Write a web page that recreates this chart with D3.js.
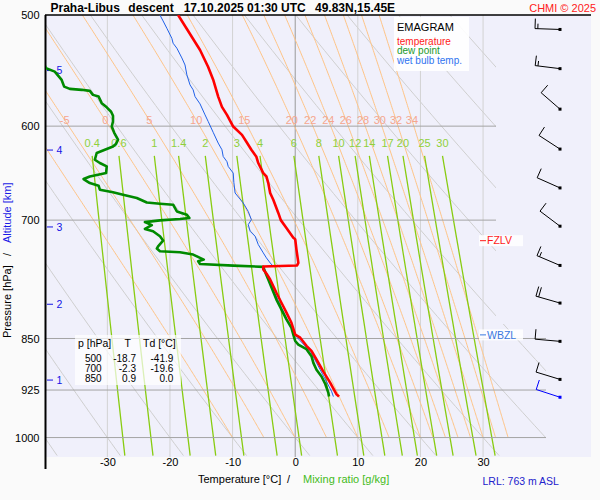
<!DOCTYPE html>
<html>

<head>
  <meta charset="utf8">
  <script src="https://d3js.org/d3.v7.min.js"></script>
  <style>
    body { margin: 0; background: #fafafa; }
    text { font-family: "Liberation Sans", Arial, sans-serif; }
  </style>
</head>

<body>
  <svg id="chart" width="600" height="500"></svg>
  <script>
    // --- sounding data (pressure hPa, temperature °C) ---
    var tempP = [500, 511.6, 529.5, 544.5, 556, 571.6, 581.3, 589, 600.4, 608.6, 615.6, 623.7, 630.9, 637.4, 648, 651.6, 658.7, 669.5, 677, 691.8, 700, 709, 720.6, 722.3, 734.7, 750.9, 754, 755.4, 759, 764, 771.6, 788.6, 801.6, 814.7, 828.4, 844.5, 848.9, 860.3, 867.4, 879.8, 897.4, 914.3, 931.6, 935];
    var tempT = [-18.7, -17.3, -15.2, -13.9, -13.1, -12.3, -11.7, -10.9, -9.9, -8.5, -7.8, -7.0, -6.2, -5.9, -5.1, -4.6, -4.3, -4.0, -3.5, -2.7, -2.3, -1.4, -0.3, 0.0, 0.2, 0.5, 0.3, -5.1, -5.1, -4.6, -4.0, -3.0, -2.2, -1.4, -0.6, 0.0, 0.8, 1.8, 2.6, 3.4, 4.5, 5.6, 6.6, 7.0];

    var dewP = [500, 530, 545.6, 548.7, 556.2, 562.3, 564.4, 565.3, 566.3, 570, 571.6, 577.8, 581.8, 586, 589.9, 595.4, 600.3, 606.6, 613.5, 617.5, 620.3, 627, 634, 637.4, 641, 648, 651.6, 654.4, 658.7, 661.6, 665.9, 668.8, 671.4, 675, 680, 681.4, 682.5, 690.1, 693.8, 697.6, 698.7, 700.3, 702.3, 705.8, 710.2, 712.9, 718.8, 723.9, 730.7, 733.4, 736.7, 737.9, 740.7, 744.7, 746.8, 748.8, 752.3, 754.2, 755.8, 764, 771.6, 797.4, 810.5, 823.7, 835.3, 844.5, 853.5, 858.5, 865.1, 875.1, 884.7, 894.8, 904.7, 915.9, 929.3, 935];
    var dewT = [-41.9, -41.0, -39.8, -38.4, -37.3, -36.9, -36.0, -34.1, -32.8, -32.3, -31.4, -30.9, -30.1, -29.4, -29.1, -29.1, -29.3, -28.9, -28.3, -28.6, -29.1, -31.7, -32.0, -31.2, -30.1, -30.2, -32.8, -33.8, -32.8, -31.4, -31.2, -29.1, -27.5, -25.3, -23.7, -21.6, -19.5, -18.9, -17.3, -16.9, -18.4, -21.6, -24.0, -22.9, -24.0, -22.7, -21.6, -21.1, -21.9, -22.1, -21.6, -18.4, -16.3, -15.2, -14.6, -15.5, -15.2, -9.9, -5.1, -4.7, -4.3, -3.0, -2.2, -1.4, -0.6, -0.3, 0.0, 0.5, 1.8, 2.6, 2.9, 3.4, 4.2, 4.8, 5.3, 5.4];

    var wetP = [500, 504.9, 511, 519.5, 523.7, 528, 536.5, 542.7, 551.6, 560.7, 565.3, 571.6, 578.5, 589, 595.4, 606.1, 616.9, 623.7, 630.6, 636, 641, 648, 658, 669.5, 680.6, 690.1, 699.5, 705.2, 712.9, 718.8, 728.6, 738.6, 744.7, 750.9, 754.2, 755.8, 764, 771.6, 797.4, 823.7, 848.5, 869.3, 894.8, 926.8, 935];
    var wetT = [-21.6, -21.1, -20.5, -19.7, -19.5, -18.9, -18.1, -17.6, -17.3, -16.8, -16.3, -16.0, -15.2, -14.4, -13.9, -13.1, -12.3, -11.7, -11.5, -10.9, -10.7, -9.9, -9.8, -9.6, -8.3, -7.5, -7.0, -7.5, -7.2, -6.4, -5.9, -5.1, -4.6, -4.0, -3.6, -5.1, -4.6, -4.2, -2.8, -1.3, 0.3, 2.5, 4.0, 5.8, 6.1];

    // wind: pressure, direction (deg), speed (kt); last one is the launch level
    var windP = [512, 546, 583.5, 623, 664, 707, 754, 802, 854, 909, 936];
    var windDir = [272, 277, 311, 303, 294, 307, 293, 286, 275, 287, 288];
    var windSpd = [15, 15, 10, 10, 10, 10, 15, 20, 10, 10, 10];

    // altitude marks (km) and their pressure
    var altKm = [1, 2, 3, 4, 5];
    var altP = [910, 803.6, 707.9, 624, 547.7];

    var fzlvP = 724;
    var wbzlP = 845;

    // table of standard levels
    var tableP = [500, 700, 850];
    var tableT = [-18.7, -2.3, 0.9];
    var tableTd = [-41.9, -19.6, 0.0];

    // grid
    var pTicks = [500, 600, 700, 850, 925, 1000];
    var tTicks = [-30, -20, -10, 0, 10, 20, 30];
    var mixRatios = [0.4, 0.6, 1, 1.4, 2, 3, 4, 6, 8, 10, 12, 14, 17, 20, 25, 30];
    var thetaW = [-10, -5, 0, 5, 10, 15, 20, 22, 24, 26, 28, 30, 32, 34];
    var thetaWLabels = [-5, 0, 5, 10, 15, 20, 22, 24, 26, 28, 30, 32, 34];
    var theta = [-40, -30, -20, -10, 0, 10, 20, 30, 40, 50, 60, 70, 80, 90, 100];

    var chart = d3.select('#chart');
    var plotL = 46, plotR = 591, plotT = 15, plotB = 457;

    var x = d3.scaleLinear().domain([-39.8, 47.24]).range([plotL, plotR]);
    var y = d3.scaleLog().domain([500, 1032.4]).range([plotT, plotB]);

    var line = d3.line().x((d) => x(d.t)).y((d) => y(d.p));

    var defs = chart.append('defs');
    defs.append('clipPath').attr('id', 'plot')
      .append('rect').attr('x', plotL).attr('y', plotT).attr('width', plotR - plotL).attr('height', plotB - plotT);
    defs.append('clipPath').attr('id', 'dry')
      .append('path').attr('d', 'M' + plotL + ',' + plotT + 'H496V' + y(830) + 'H546V' + plotB + 'H' + plotL + 'Z');

    chart.append('rect').attr('x', plotL).attr('y', plotT).attr('width', plotR - plotL).attr('height', plotB - plotT)
      .attr('fill', '#f0f0fb');

    // --- thermodynamics for the background lines ---
    function satVap(tc) { return 6.112 * Math.exp(17.67 * tc / (tc + 243.5)); }
    function dTdp(p, T) {
      var es = satVap(T - 273.15);
      var rs = 0.622 * es / (p - es);
      var Rd = 287.04, cp = 1005.7, L = 2.501e6;
      return (Rd * T + L * rs) / (p * (cp + L * L * rs * 0.622 / (Rd * T * T)));
    }
    function moistLine(tw) {
      var p = 1000, T = tw + 273.15, dp = -2, pts = [{ p: p, t: tw }];
      while (p > 500) {
        var k1 = dTdp(p, T);
        var k2 = dTdp(p + dp / 2, T + k1 * dp / 2);
        T += k2 * dp; p += dp;
        pts.push({ p: p, t: T - 273.15 });
      }
      return pts;
    }
    function mixLine(w) {
      return d3.range(630, 1040, 10).map(function (p) {
        var e = (w / 1000) * p / (0.622 + w / 1000);
        var l = Math.log(e / 6.112);
        return { p: p, t: 243.5 * l / (17.67 - l) };
      });
    }
    function dryLine(th) {
      return d3.range(500, 1040, 10).map((p) => ({ p: p, t: (th + 273.15) * Math.pow(p / 1000, 0.286) - 273.15 }));
    }

    var grid = chart.append('g').attr('clip-path', 'url(#plot)').attr('fill', 'none');

    grid.append('g').attr('clip-path', 'url(#dry)').selectAll('path')
      .data(theta).enter().append('path')
      .attr('d', (d) => line(dryLine(d)))
      .attr('stroke', '#cfcfcf').attr('stroke-width', 1);

    grid.selectAll('.isotherm')
      .data(tTicks).enter().append('line')
      .attr('class', 'isotherm')
      .attr('x1', (d) => x(d)).attr('x2', (d) => x(d))
      .attr('y1', plotT).attr('y2', plotB)
      .attr('stroke', (d) => d === 0 ? '#9a9a9a' : '#d2d2d2').attr('stroke-width', 1);

    grid.selectAll('.moist')
      .data(thetaW).enter().append('path')
      .attr('class', 'moist')
      .attr('d', (d) => line(moistLine(d)))
      .attr('stroke', '#ffc486').attr('stroke-width', 1);

    grid.selectAll('.mix')
      .data(mixRatios).enter().append('path')
      .attr('class', 'mix')
      .attr('d', (d) => line(mixLine(d)))
      .attr('stroke', '#88cc11').attr('stroke-width', 1.3);

    grid.selectAll('.isobar')
      .data(pTicks.slice(1)).enter().append('line')
      .attr('class', 'isobar')
      .attr('x1', plotL).attr('x2', (d) => d < 830 ? 496 : 546)
      .attr('y1', (d) => y(d)).attr('y2', (d) => y(d))
      .attr('stroke', '#a4a4a4').attr('stroke-width', 1);

    // labels of moist adiabats and mixing ratio lines
    chart.append('g').selectAll('text')
      .data(thetaWLabels).enter().append('text')
      .attr('x', (d) => x(moistLine(d).find((q) => q.p <= 594).t))
      .attr('y', y(594)).attr('dy', '0.35em')
      .attr('text-anchor', 'middle').attr('font-size', 11).attr('fill', '#f5a68e')
      .text((d) => d);

    chart.append('g').selectAll('text')
      .data(mixRatios).enter().append('text')
      .attr('x', (d) => x(mixLine(d)[0].t))
      .attr('y', 147).attr('text-anchor', 'middle').attr('font-size', 11).attr('fill', '#8fd03a')
      .text((d) => d);

    // frame
    chart.append('line').attr('x1', plotL - 1).attr('x2', plotR).attr('y1', plotT).attr('y2', plotT)
      .attr('stroke', '#000').attr('stroke-width', 1.5);
    chart.append('line').attr('x1', 45.5).attr('x2', 45.5).attr('y1', plotT).attr('y2', 469)
      .attr('stroke', '#000').attr('stroke-width', 2);

    // axes
    var xAxis = chart.append('g').attr('transform', 'translate(0,' + plotB + ')')
      .call(d3.axisBottom(x).tickValues(tTicks).tickSize(0).tickPadding(1.5).tickFormat((d) => String(d)));
    var yAxis = chart.append('g').attr('transform', 'translate(45.5,0)')
      .call(d3.axisLeft(y).tickValues(pTicks).tickSize(0).tickPadding(6).tickFormat((d) => String(d)));
    [xAxis, yAxis].forEach(function (a) {
      a.select('.domain').remove();
      a.attr('font-size', 11).attr('font-family', '"Liberation Sans", Arial, sans-serif');
      a.selectAll('text').attr('fill', '#000');
    });

    // altitude marks
    var alt = chart.append('g').selectAll('g').data(altKm).enter().append('g')
      .attr('transform', (d, i) => 'translate(0,' + y(altP[i]) + ')');
    alt.append('line').attr('x1', 47).attr('x2', 53).attr('stroke', '#1414e6');
    alt.append('text').attr('x', 56.5).attr('dy', '0.35em').attr('font-size', 10.5).attr('fill', '#1414e6').text((d) => d);

    // profiles
    var prof = chart.append('g').attr('clip-path', 'url(#plot)').attr('fill', 'none').attr('stroke-linejoin', 'round');
    prof.append('path').attr('d', line(wetP.map((p, i) => ({ p: p, t: wetT[i] }))))
      .attr('stroke', '#1f60e8').attr('stroke-width', 1);
    prof.append('path').attr('d', line(dewP.map((p, i) => ({ p: p, t: dewT[i] }))))
      .attr('stroke', '#008a00').attr('stroke-width', 2.6);
    prof.append('path').attr('d', line(tempP.map((p, i) => ({ p: p, t: tempT[i] }))))
      .attr('stroke', '#ff0000').attr('stroke-width', 2.6);

    // level table
    var tbl = chart.append('g').attr('font-size', 10).attr('fill', '#000');
    tbl.append('rect').attr('x', 75).attr('y', 335).attr('width', 106).attr('height', 50)
      .attr('fill', '#fff').attr('opacity', 0.7);
    tbl.append('text').attr('x', 78).attr('y', 346.5).attr('font-size', 10.5).text('p [hPa]');
    tbl.append('text').attr('x', 127.7).attr('y', 346.5).attr('font-size', 10.5).attr('text-anchor', 'middle').text('T');
    tbl.append('text').attr('x', 143).attr('y', 346.5).attr('font-size', 10.5).text('Td [°C]');
    var rows = tbl.selectAll('.row').data(tableP).enter().append('g')
      .attr('class', 'row').attr('transform', (d, i) => 'translate(0,' + (361.7 + i * 10) + ')');
    rows.append('text').attr('x', 101.7).attr('text-anchor', 'end').text((d) => d);
    rows.append('text').attr('x', 136).attr('text-anchor', 'end').text((d, i) => tableT[i].toFixed(1));
    rows.append('text').attr('x', 173.3).attr('text-anchor', 'end').text((d, i) => tableTd[i].toFixed(1));

    // legend
    var lg = chart.append('g');
    lg.append('rect').attr('x', 394).attr('y', 17).attr('width', 75).attr('height', 54).attr('fill', '#fff').attr('opacity', 0.9);
    lg.append('text').attr('x', 397).attr('y', 30.5).attr('font-size', 11).attr('fill', '#000').text('EMAGRAM');
    lg.append('text').attr('x', 397).attr('y', 44.5).attr('font-size', 10).attr('fill', '#ff1a1a').text('temperature');
    lg.append('text').attr('x', 397).attr('y', 54.3).attr('font-size', 10).attr('fill', '#22992a').text('dew point');
    lg.append('text').attr('x', 397).attr('y', 64).attr('font-size', 10).attr('fill', '#2f73f0').text('wet bulb temp.');

    // freezing / wet-bulb zero levels
    function levelMark(p, name, color) {
      var g = chart.append('g').attr('transform', 'translate(0,' + y(p) + ')');
      g.append('rect').attr('x', 479).attr('y', -5.5).attr('width', 44).attr('height', 11).attr('fill', '#fff').attr('opacity', 0.85);
      g.append('line').attr('x1', 480).attr('x2', 486).attr('stroke', color);
      g.append('text').attr('x', 487).attr('dy', '0.36em').attr('font-size', 10.5).attr('fill', color).text(name);
    }
    levelMark(fzlvP, 'FZLV', '#ff1a1a');
    levelMark(wbzlP, 'WBZL', '#3a78e0');

    // wind barbs
    var barbs = chart.append('g').attr('stroke-width', 1);
    windP.forEach(function (p, i) {
      var cx = 560, cy = y(p);
      var col = i === windP.length - 1 ? '#0000ff' : '#000';
      var a = windDir[i] * Math.PI / 180;
      var ux = Math.sin(a), uy = -Math.cos(a);
      var vx = -uy, vy = ux;
      var ex = cx + ux * 25, ey = cy + uy * 25;
      barbs.append('line').attr('x1', cx).attr('y1', cy).attr('x2', ex).attr('y2', ey).attr('stroke', col);
      var spd = windSpd[i], pos = 0;
      while (spd >= 10) {
        var bx = ex - ux * pos, by = ey - uy * pos;
        barbs.append('line').attr('x1', bx).attr('y1', by).attr('x2', bx + vx * 10).attr('y2', by + vy * 10).attr('stroke', col);
        pos += 2.8; spd -= 10;
      }
      if (spd >= 5) {
        var hx = ex - ux * pos, hy = ey - uy * pos;
        barbs.append('line').attr('x1', hx).attr('y1', hy).attr('x2', hx + vx * 5).attr('y2', hy + vy * 5).attr('stroke', col);
      }
      barbs.append('rect').attr('x', cx - 1.5).attr('y', cy - 1.5).attr('width', 3).attr('height', 3).attr('fill', col);
    });

    // titles
    var title = chart.append('g').attr('font-size', 12).attr('font-weight', 'bold').attr('fill', '#000');
    [['Praha-Libus', 50.5], ['descent', 128.3], ['17.10.2025 01:30 UTC', 183.7], ['49.83N,15.45E', 315]].forEach(function (t) {
      title.append('text').attr('x', t[1]).attr('y', 11.5).text(t[0]);
    });
    chart.append('text').attr('x', 596).attr('y', 11.5).attr('text-anchor', 'end').attr('font-size', 11)
      .attr('fill', '#ff2020').text('CHMI © 2025');

    var yl = chart.append('g').attr('transform', 'translate(11,0)').attr('font-size', 11);
    yl.append('text').attr('transform', 'translate(0,338) rotate(-90)').attr('fill', '#000').text('Pressure [hPa]');
    yl.append('text').attr('transform', 'translate(0,256) rotate(-90)').attr('fill', '#000').text('/');
    yl.append('text').attr('transform', 'translate(0,243) rotate(-90)').attr('fill', '#1a1ae6').text('Altitude [km]');

    chart.append('text').attr('x', 198).attr('y', 483).attr('font-size', 11).attr('fill', '#000').text('Temperature [°C]');
    chart.append('text').attr('x', 287).attr('y', 483).attr('font-size', 11).attr('fill', '#000').text('/');
    chart.append('text').attr('x', 303).attr('y', 483).attr('font-size', 11).attr('fill', '#44bb22').text('Mixing ratio [g/kg]');
    chart.append('text').attr('x', 482.5).attr('y', 485).attr('font-size', 10.5).attr('fill', '#2222cc').text('LRL: 763 m ASL');
  </script>
</body>

</html>
